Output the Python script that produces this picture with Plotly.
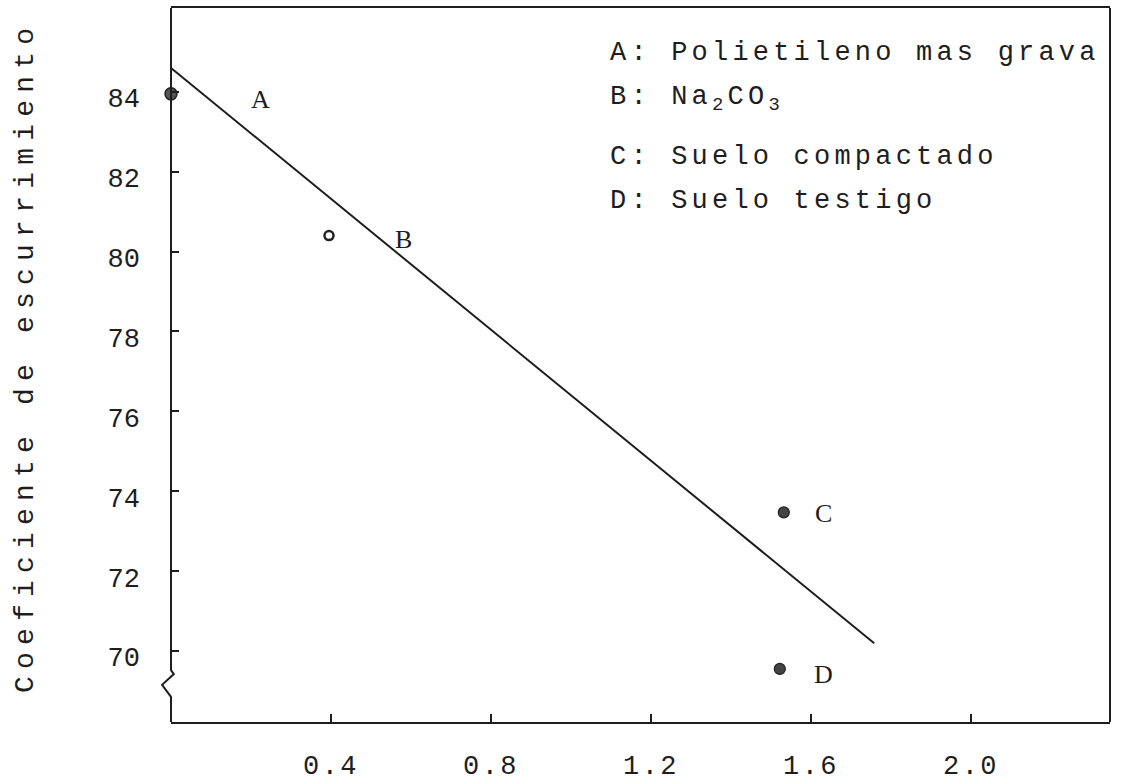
import plotly.graph_objects as go

# ---- data ----
point_names = ["A", "B", "C", "D"]
point_x = [0.0, 0.395, 1.532, 1.522]
point_y = [83.95, 80.4, 73.47, 69.55]

line_x = [0.0, 1.758]
line_y = [84.6, 70.19]

label_x = [0.2225, 0.58, 1.63, 1.63]
label_y = [83.8, 80.3, 73.45, 69.42]

legend_texts = [
    "A: Polietileno mas grava",
    "B: Na<sub>2</sub>CO<sub>3</sub>",
    "C: Suelo compactado",
    "D: Suelo testigo",
]

x_tickvals = [0.4, 0.8, 1.2, 1.6, 2.0]
x_ticktext = ["0.4", "0.8", "1.2", "1.6", "2.0"]
y_tickvals = [70, 72, 74, 76, 78, 80, 82, 84]
y_ticktext = ["70", "72", "74", "76", "78", "80", "82", "84"]

y_title = "Coeficiente de escurrimiento"

X_RANGE = [0.0, 2.3475]
Y_RANGE = [68.22, 86.1]

FONT = "Liberation Mono"
INK = "#1e1e1e"

fig = go.Figure()

# regression line
fig.add_trace(go.Scatter(
    x=line_x, y=line_y, mode="lines",
    line=dict(color=INK, width=2), showlegend=False, hoverinfo="skip"))

# points (A filled, B hollow, C and D filled)
fills = ["#555555", "white", "#444444", "#444444"]
sizes = [12, 9, 11, 11]
lws = [1.5, 2.5, 1.2, 1.2]
for i in range(len(point_names)):
    fig.add_trace(go.Scatter(
        x=[point_x[i]], y=[point_y[i]], mode="markers",
        marker=dict(color=fills[i], size=sizes[i],
                    line=dict(color="#222222", width=lws[i])),
        cliponaxis=False, showlegend=False, name=point_names[i]))

annotations = []
# legend block (indices 0..3)
legend_rows_y = [0.937, 0.872, 0.7913, 0.7297]
for t, yy in zip(legend_texts, legend_rows_y):
    annotations.append(dict(
        text=t, xref="paper", yref="paper", x=0.4655, y=yy,
        xanchor="left", yanchor="middle", align="left", showarrow=False,
        font=dict(family=FONT, size=27, color=INK)))
# y title (index 4)
annotations.append(dict(
    text=y_title, xref="paper", yref="paper", x=-0.1555, y=0.511,
    xanchor="center", yanchor="middle", textangle=-90, showarrow=False,
    font=dict(family=FONT, size=28, color=INK)))
# point labels
for n, lx, ly in zip(point_names, label_x, label_y):
    annotations.append(dict(
        text=n, x=lx, y=ly, xref="x", yref="y", showarrow=False,
        xanchor="center", yanchor="middle",
        font=dict(family="Liberation Serif", size=26, color=INK)))

# frame: right border and left border with an axis break
shapes = [
    dict(type="line", xref="paper", yref="paper", x0=1, x1=1, y0=0, y1=1,
         line=dict(color=INK, width=2)),
    dict(type="path", xref="paper", yref="y",
         path=("M 0,%s L 0,69.52 L 0.003,69.42 L -0.0095,69.15 L 0,68.85 L 0,%s"
               % (Y_RANGE[1], Y_RANGE[0])),
         line=dict(color=INK, width=2)),
]

fig.update_layout(
    width=1123, height=784,
    margin=dict(l=171, r=13, t=8, b=62, autoexpand=False),
    paper_bgcolor="white", plot_bgcolor="white",
    showlegend=False,
    annotations=annotations, shapes=shapes,
    xaxis=dict(range=X_RANGE, showgrid=False, zeroline=False,
               automargin=False,
               showline=True, mirror=True, linecolor=INK, linewidth=2,
               ticks="inside", ticklen=8, tickwidth=2, tickcolor=INK,
               tickvals=x_tickvals, ticktext=x_ticktext,
               tickfont=dict(family=FONT, size=27, color=INK),
               ticklabelstandoff=18),
    yaxis=dict(range=Y_RANGE, showgrid=False, zeroline=False,
               automargin=False,
               showline=False,
               ticks="inside", ticklen=8, tickwidth=2, tickcolor=INK,
               tickvals=y_tickvals, ticktext=y_ticktext,
               tickfont=dict(family=FONT, size=27, color=INK),
               ticklabelstandoff=30, ticklabelshift=6),
)

post = """
document.body.style.margin = '0';
document.body.style.overflow = 'hidden';
var gd = document.getElementById('{plot_id}');
function ls(sel, v){ gd.querySelectorAll(sel).forEach(function(t){ t.style.letterSpacing = v; }); }
for (var i = 0; i < 4; i++) { ls('.annotation[data-index="' + i + '"] .annotation-text', '4.2px'); }
ls('.annotation[data-index="4"] .annotation-text', '7.2px');
ls('.xtick text', '2.5px');
"""

fig.write_html("out.html", post_script=post,
               config={"displayModeBar": False})
